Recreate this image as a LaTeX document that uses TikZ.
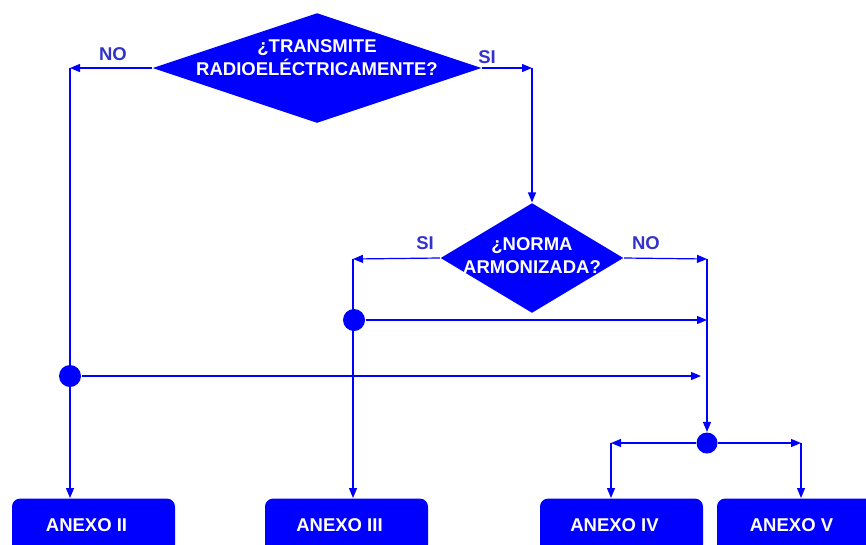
\documentclass[tikz,border=0pt]{standalone}
\usepackage{fontspec}
\setmainfont{Liberation Sans}
\usepackage{xcolor}
\usepackage{tikz}
\usetikzlibrary{shapes.geometric,arrows.meta,positioning}

\definecolor{flowblue}{RGB}{0,0,255}
\definecolor{labelblue}{RGB}{51,51,204}

\begin{document}
\begin{tikzpicture}[x=1pt,y=-1pt,
                    line width=1.2pt,
                    flow/.style={draw=flowblue,-{Triangle[length=10pt,width=8pt]}},
                    decision/.style n args={2}{diamond,fill=flowblue,
                    minimum width=#1pt,minimum height=#2pt,
                    inner sep=0pt},
                    qtext/.style={text=white,align=center,
                    font=\fontsize{18.5}{23}\selectfont\bfseries},
                    branch/.style={text=labelblue,
                    font=\fontsize{18.5}{20}\selectfont\bfseries},
                    joint/.style={circle,fill=flowblue,inner sep=0pt,
                    minimum size=#1pt},
                    annex/.style={rectangle,fill=flowblue,anchor=north,
                    minimum width=163pt,minimum height=54pt,
                    rounded corners=8pt,text=white,
                    execute at begin node=\hspace*{-14pt},
                    font=\fontsize{18.5}{20}\selectfont\bfseries}]
    \useasboundingbox (0,0) rectangle (866,544);
    \clip (0,0) rectangle (866,544);

    % questions
    \node[decision={329}{110}] (qradio) at (317,68) {};
    \node[qtext] (qradiotxt) at (317,58) {¿TRANSMITE\\RADIOELÉCTRICAMENTE?};
    \node[decision={183}{110}] (qnorma) at (532,258) {};
    \node[qtext] (qnormatxt) at (532,256) {¿NORMA\\ARMONIZADA?};

    % annexes
    \node[annex] (anx2) at (93.5,498) {ANEXO II};
    \node[annex] (anx3) at (346.5,498) {ANEXO III};
    \node[annex] (anx4) at (621.5,498) {ANEXO IV};
    \node[annex] (anx5) at (798.5,498) {ANEXO V};

    % bends
    \coordinate (radiono) at (70,68);
    \coordinate (radiosi) at (532,68);
    \coordinate (normasi) at (353,259);
    \coordinate (normano) at (707,259);
    \coordinate (splitl) at (611,443);
    \coordinate (splitr) at (801,443);

    \draw[flow] (qradio.west) -- (radiono);
    \draw[flow] (radiono) -- (radiono |- anx2.north);
    \draw[flow] (qradio.east) -- (radiosi);
    \draw[flow] (radiosi) -- (qnorma.north);
    \draw[flow] (qnorma.west) -- (normasi);
    \draw[flow] (normasi) -- (normasi |- anx3.north);
    \draw[flow] (qnorma.east) -- (normano);

    \node[joint=22] (jnorma) at (354,320) {};
    \node[joint=22] (jradio) at (70,376) {};
    \node[joint=21] (jsplit) at (707,443) {};

    \draw[flow] (normano) -- (jsplit.north);
    \draw[flow] (jnorma) -- (jnorma -| normano);
    \draw[flow] (jradio) -- ([xshift=-6pt]jradio -| normano);
    \draw[flow] (jsplit) -- (splitl);
    \draw[flow] (splitl) -- (splitl |- anx4.north);
    \draw[flow] (jsplit) -- (splitr);
    \draw[flow] (splitr) -- (splitr |- anx5.north);

    \node[branch] (radionolbl) at (113,54) {NO};
    \node[branch] (radiosilbl) at (487,57) {SI};
    \node[branch] (normasilbl) at (425,243) {SI};
    \node[branch] (normanolbl) at (646,243) {NO};
\end{tikzpicture}
\end{document}
